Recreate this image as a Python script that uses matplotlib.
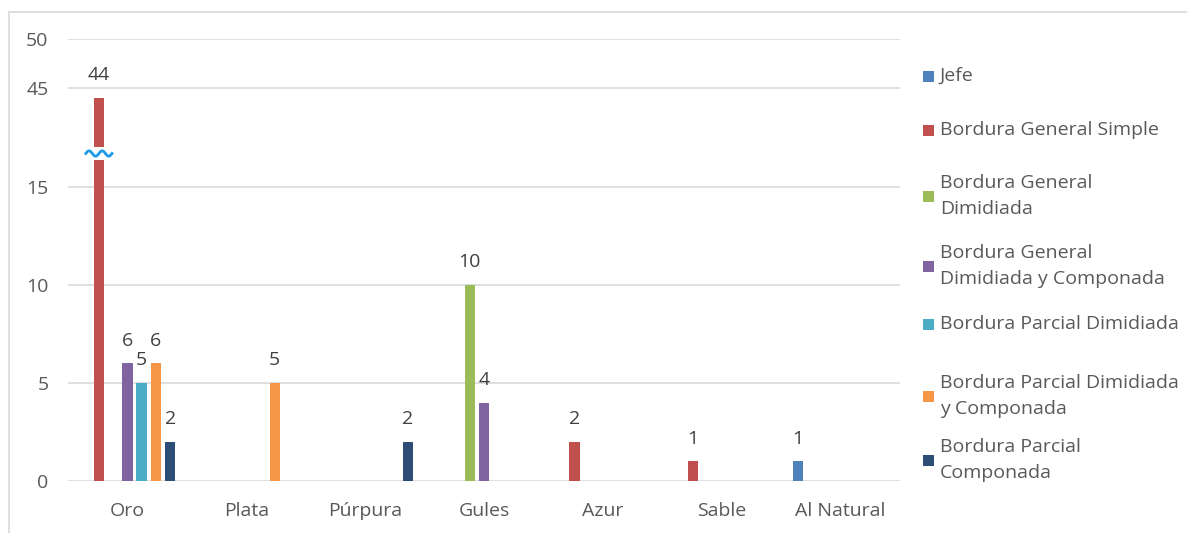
import numpy as np
import matplotlib
matplotlib.use("Agg")
import matplotlib.pyplot as plt
from matplotlib.patches import Rectangle
import matplotlib.transforms as mtransforms

plt.rcParams['font.family'] = ['Open Sans', 'DejaVu Sans']

categories = ['Oro', 'Plata', 'Púrpura', 'Gules', 'Azur', 'Sable', 'Al Natural']
series_names = ['Jefe', 'Bordura General Simple', 'Bordura General\nDimidiada',
                'Bordura General\nDimidiada y Componada', 'Bordura Parcial Dimidiada',
                'Bordura Parcial Dimidiada\ny Componada', 'Bordura Parcial\nComponada']
jefe = [0, 0, 0, 0, 0, 0, 1]
bg_simple = [44, 0, 0, 0, 2, 1, 0]
bg_dimidiada = [0, 0, 0, 10, 0, 0, 0]
bg_dim_comp = [6, 0, 0, 4, 0, 0, 0]
bp_dimidiada = [5, 0, 0, 0, 0, 0, 0]
bp_dim_comp = [6, 5, 0, 0, 0, 0, 0]
bp_componada = [2, 0, 2, 0, 0, 0, 0]
series = [jefe, bg_simple, bg_dimidiada, bg_dim_comp, bp_dimidiada, bp_dim_comp, bp_componada]
colors = ['#4F81BD', '#C0504D', '#9BBB59', '#8064A2', '#4BACC6', '#F79646', '#2C4D75']
yticks = [0, 5, 10, 15, 45, 50]

# broken axis: 15..40 squeezed, 40..50 at half scale
_src = [-100, 0, 15, 40, 50, 1000]
_dst = [-100, 0, 15, 17.55, 22.55, 972.55]


def fwd(v):
    return np.interp(v, _src, _dst)


def inv(v):
    return np.interp(v, _dst, _src)


W, H = 1187, 533
FS = 14
fig = plt.figure(figsize=(W / 100, H / 100), dpi=100)
ax = fig.add_axes([68 / W, 1 - 481 / H, (900 - 68) / W, (481 - 39) / H])
ax.set_yscale('function', functions=(fwd, inv))

x = np.arange(len(categories))
step, width = 0.12, 0.088
for i, (vals, c) in enumerate(zip(series, colors)):
    bars = ax.bar(x + (i - 3) * step, vals, width, color=c, linewidth=0, zorder=3)
    ax.bar_label(bars, labels=[str(v) if v else '' for v in vals], padding=10,
                 fontsize=FS, color='#404040')

ax.set_xlim(-0.5, len(categories) - 0.5)
ax.set_ylim(0, 50)
ax.set_yticks(yticks)
ax.set_yticklabels([str(t) for t in yticks])
ax.minorticks_off()
ax.set_xticks(x)
ax.set_xticklabels(categories)
ax.tick_params(axis='both', length=0, labelsize=FS, colors='#595959')
ax.tick_params(axis='x', pad=15)
ax.tick_params(axis='y', pad=14)
ax.grid(axis='y', color='#D9D9D9', lw=1.2, zorder=0)
for s in ax.spines.values():
    s.set_visible(False)

# break marker on the tall bar
trans = mtransforms.blended_transform_factory(ax.transData, ax.transAxes)
yb = (481 - 153.5) / (481 - 39)
xb = x[0] - 2 * step
ax.add_patch(Rectangle((xb - 0.07, yb - 0.014), 0.14, 0.028,
                       transform=trans, facecolor='white', edgecolor='none', zorder=4))
wx = np.linspace(-0.11, 0.11, 60)
ax.plot(xb + wx, yb + 0.006 * np.sin(wx / 0.11 * 2 * np.pi), transform=trans,
        color='#1E9BE8', lw=2, zorder=5, clip_on=False)

# legend
leg_y = [76, 130, 196, 266, 324, 396, 460]
for name, c, yy in zip(series_names, colors, leg_y):
    fig.patches.append(Rectangle((923 / W, 1 - (yy + 6) / H), 11 / W, 11 / H,
                                 transform=fig.transFigure, facecolor=c, edgecolor='none'))
    fig.text(940 / W, 1 - yy / H, name, fontsize=FS, color='#595959', va='center',
             ha='left', linespacing=1.55)

# chart frame
fig.patches.append(Rectangle((9 / W, -0.05), 1.1, 1 - 12 / H + 0.05, transform=fig.transFigure,
                             facecolor='none', edgecolor='#D9D9D9', lw=1.2))

fig.savefig('out.png', dpi=100)
